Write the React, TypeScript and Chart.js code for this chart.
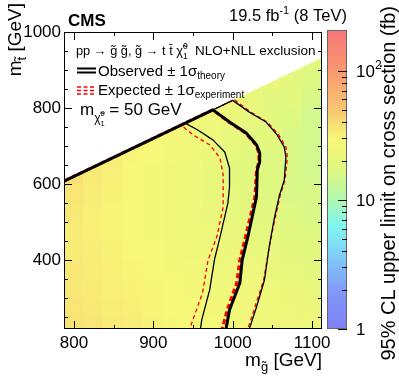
import React, { useEffect, useRef } from "react";
import { Chart, registerables } from "chart.js";

Chart.register(...registerables);

const FONT = '"Liberation Sans", Arial, Helvetica, sans-serif';

// ---------------- data ----------------
const gluinoMasses = [800, 825, 850, 875, 900, 925, 950, 975, 1000, 1025, 1050, 1075, 1100];
const stopMasses = [225, 275, 325, 375, 425, 475, 525, 575, 625, 675, 725, 775, 825, 875, 925];
const N = null;
// 95% CL upper limit on cross section (fb); rows follow stopMasses, columns follow gluinoMasses
const limitGrid: (number | null)[][] = [
  [37, 36, 34, 33, 31, 30, 29, 28, 27, 26, 25, 24, 23],
  [36, 35, 33, 32, 30, 29, 28, 27, 26, 25, 24, 23, 22],
  [35, 34, 32, 31, 30, 28, 27, 26, 25, 24, 23, 22, 21],
  [35, 33, 32, 30, 29, 27, 26, 25, 24, 23, 21, 20, 19],
  [34, 33, 31, 29, 28, 26, 25, 24, 22, 21, 20, 19, 18],
  [34, 32, 30, 28, 27, 25, 24, 23, 21, 20, 19, 18, 17],
  [35, 32, 30, 28, 27, 25, 23, 22, 20, 19, 18, 17, 16],
  [36, 33, 31, 28, 27, 25, 23, 21, 20, 18, 17, 16, 16],
  [38, 34, 32, 29, 27, 25, 23, 21, 19, 18, 17, 16, 15],
  [N, 36, 33, 30, 28, 26, 24, 22, 20, 18, 17, 16, 15],
  [N, N, N, 32, 29, 27, 25, 23, 21, 19, 18, 16, 15],
  [N, N, N, N, N, 28, 26, 24, 22, 20, 18, 17, 15],
  [N, N, N, N, N, N, N, 25, 24, 21, 19, 18, 16],
  [N, N, N, N, N, N, N, N, N, 23, 21, 19, 17],
  [N, N, N, N, N, N, N, N, N, N, N, 20, 19],
];

// exclusion contours [m_gluino, m_stop]
const observed = [[787.5, 607.5], [975, 795], [996, 763], [1017, 734], [1030, 703], [1034, 682], [1034, 658], [1031, 637], [1030, 566], [1019, 460], [1012, 400], [1009, 339], [996, 268], [991, 212]];
const observedMinus = [[787.5, 607.5], [940, 760], [956, 742], [975, 716], [990, 684], [996, 642], [996, 592], [994, 550], [984, 460], [977, 400], [971, 321], [961, 242], [959, 212]];
const observedPlus = [[787.5, 607.5], [1000, 820], [1021, 789], [1042, 763], [1056, 729], [1065, 697], [1067, 671], [1065, 610], [1059, 571], [1052, 505], [1046, 434], [1040, 347], [1030, 276], [1020, 212]];
const expected = [[787.5, 607.5], [975, 795], [995, 763], [1016, 734], [1029, 703], [1033, 682], [1033, 658], [1030, 637], [1028, 566], [1016, 460], [1009, 400], [1005, 339], [993, 268], [986, 212]];
const expectedMinus = [[787.5, 607.5], [935, 755], [950, 729], [971, 703], [984, 668], [988, 624], [988, 539], [980, 460], [969, 400], [962, 313], [949, 237], [945, 212]];
const expectedPlus = [[787.5, 607.5], [1002, 822], [1023, 789], [1044, 762], [1058, 729], [1067, 697], [1069, 671], [1066, 610], [1060, 571], [1053, 505], [1046, 434], [1039, 347], [1028, 276], [1018, 212]];

const xTicks = [800, 900, 1000, 1100];
const xMinorTicks = [850, 950, 1050];
const yTicks = [400, 600, 800, 1000];
const yMinorTicks = [250, 300, 350, 450, 500, 550, 650, 700, 750, 850, 900, 950];
const zTicks = [1, 10, 100];
const zMinorTicks = [2, 3, 4, 5, 6, 7, 8, 9, 20, 30, 40, 50, 60, 70, 80, 90];
const zTickLabels = [["1", ""], ["10", ""], ["10", "2"]];

const X_MIN = 787.5, X_MAX = 1112.5, Y_MIN = 218, Y_MAX = 1000;
const Z_MIN = 1, Z_MAX = 200;
const DIAG_OFFSET = 180; // kinematic boundary m_stop = m_gluino - 180
const CELL_W = 25, CELL_H = 50;

// ---------------- palette ----------------
const paletteStops: [number, number[]][] = [
  [0, [128, 128, 248]],
  [0.28, [128, 152, 248]],
  [0.54, [128, 200, 248]],
  [0.8, [128, 248, 240]],
  [1.0, [176, 248, 176]],
  [1.24, [224, 248, 128]],
  [1.47, [248, 248, 120]],
  [1.71, [248, 196, 112]],
  [2.0, [248, 152, 112]],
  [2.3, [248, 120, 120]],
];
function paletteColor(v: number): string {
  const l = Math.log10(Math.max(v, 1));
  let k = 0;
  while (k < paletteStops.length - 2 && l > paletteStops[k + 1][0]) k++;
  const [l0, c0] = paletteStops[k];
  const [l1, c1] = paletteStops[k + 1];
  const t = Math.min(1, Math.max(0, (l - l0) / (l1 - l0)));
  const c = c0.map((a, i) => Math.round(a + (c1[i] - a) * t));
  return `rgb(${c[0]},${c[1]},${c[2]})`;
}

// ---------------- text helper ----------------
type Seg = { t: string; size: number; dy?: number; bold?: boolean; noAdv?: boolean };
function fontOf(s: Seg) {
  return `${s.bold ? "bold " : ""}${s.size}px ${FONT}`;
}
function segsWidth(ctx: CanvasRenderingContext2D, segs: Seg[]) {
  let w = 0;
  for (const s of segs) {
    ctx.font = fontOf(s);
    if (!s.noAdv) w += ctx.measureText(s.t).width;
  }
  return w;
}
function drawSegs(ctx: CanvasRenderingContext2D, segs: Seg[], x: number, y: number, align: "left" | "right" | "center" = "left") {
  const w = segsWidth(ctx, segs);
  let cx = align === "right" ? x - w : align === "center" ? x - w / 2 : x;
  ctx.textAlign = "left";
  ctx.textBaseline = "alphabetic";
  for (const s of segs) {
    ctx.font = fontOf(s);
    ctx.fillText(s.t, cx, y + (s.dy || 0));
    if (!s.noAdv) cx += ctx.measureText(s.t).width;
  }
}

const heatmapPlugin = {
  id: "heatmap",
  beforeDatasetsDraw(chart: any) {
    const { ctx, chartArea: a } = chart;
    const x = chart.scales.x, y = chart.scales.y;
    ctx.save();
    ctx.beginPath();
    ctx.rect(a.left, a.top, a.right - a.left, a.bottom - a.top);
    ctx.clip();
    ctx.beginPath();
    ctx.moveTo(x.getPixelForValue(X_MIN), y.getPixelForValue(X_MIN - DIAG_OFFSET));
    ctx.lineTo(x.getPixelForValue(X_MAX), y.getPixelForValue(X_MAX - DIAG_OFFSET));
    ctx.lineTo(x.getPixelForValue(X_MAX), a.bottom);
    ctx.lineTo(x.getPixelForValue(X_MIN), a.bottom);
    ctx.closePath();
    ctx.clip();
    stopMasses.forEach((mt, i) => {
      gluinoMasses.forEach((mg, j) => {
        const v = limitGrid[i][j];
        if (v == null) return;
        const x0 = Math.floor(x.getPixelForValue(mg - CELL_W / 2));
        const x1 = Math.ceil(x.getPixelForValue(mg + CELL_W / 2));
        const y0 = Math.floor(y.getPixelForValue(mt + CELL_H / 2));
        const y1 = Math.ceil(y.getPixelForValue(mt - CELL_H / 2));
        ctx.fillStyle = paletteColor(v);
        ctx.fillRect(x0, y0, x1 - x0, y1 - y0);
      });
    });
    ctx.restore();
  },
};

const overlayPlugin = {
  id: "overlay",
  afterDraw(chart: any) {
    const { ctx, chartArea: a } = chart;
    const x = chart.scales.x, y = chart.scales.y, z = chart.scales.z;
    ctx.save();
    ctx.fillStyle = "#000";
    ctx.strokeStyle = "#000";
    ctx.lineWidth = 1;
    // frame
    ctx.strokeRect(a.left + 0.5, a.top + 0.5, a.right - a.left - 1, a.bottom - a.top - 1);
    // ticks
    const tick = (x0: number, y0: number, x1: number, y1: number) => {
      ctx.beginPath();
      ctx.moveTo(x0, y0);
      ctx.lineTo(x1, y1);
      ctx.stroke();
    };
    for (const v of xTicks) {
      const p = Math.round(x.getPixelForValue(v)) + 0.5;
      tick(p, a.bottom, p, a.bottom - 8);
      tick(p, a.top, p, a.top + 8);
    }
    for (const v of xMinorTicks) {
      const p = Math.round(x.getPixelForValue(v)) + 0.5;
      tick(p, a.bottom, p, a.bottom - 4);
      tick(p, a.top, p, a.top + 4);
    }
    for (const v of yTicks) {
      const p = Math.round(y.getPixelForValue(v)) + 0.5;
      tick(a.left, p, a.left + 8, p);
      tick(a.right, p, a.right - 8, p);
    }
    for (const v of yMinorTicks) {
      const p = Math.round(y.getPixelForValue(v)) + 0.5;
      tick(a.left, p, a.left + 4, p);
      tick(a.right, p, a.right - 4, p);
    }

    // colour bar
    const cbL = 327, cbR = 347;
    const cbTop = Math.round(z.getPixelForValue(Z_MAX)) - 2;
    const cbBot = Math.round(z.getPixelForValue(Z_MIN));
    for (let py = cbTop; py < cbBot; py++) {
      ctx.fillStyle = paletteColor(z.getValueForPixel(py + 0.5));
      ctx.fillRect(cbL, py, cbR - cbL, 1);
    }
    ctx.strokeStyle = "#666";
    ctx.strokeRect(cbL + 0.5, cbTop + 0.5, cbR - cbL - 1, cbBot - cbTop - 1);
    ctx.strokeStyle = "#000";
    for (const v of zTicks) {
      const p = Math.round(z.getPixelForValue(v)) + 0.5;
      tick(cbR, p, cbR - 9, p);
    }
    for (const v of zMinorTicks) {
      const p = Math.round(z.getPixelForValue(v)) + 0.5;
      tick(cbR, p, cbR - 5, p);
    }
    ctx.fillStyle = "#000";
    zTicks.forEach((v, i) => {
      const p = z.getPixelForValue(v);
      const [base, sup] = zTickLabels[i];
      const segs: Seg[] = [{ t: base, size: 17 }];
      if (sup) segs.push({ t: sup, size: 12, dy: -8 });
      drawSegs(ctx, segs, 356, p + 6, "left");
    });

    // colour bar title
    ctx.save();
    ctx.translate(395, 6);
    ctx.rotate(-Math.PI / 2);
    drawSegs(ctx, [{ t: "95% CL upper limit on cross section (fb)", size: 20 }], 0, 0, "right");
    ctx.restore();

    // axis titles
    drawSegs(ctx, [{ t: "m", size: 19 }, { t: "g\u0303", size: 13, dy: 5 }, { t: " [GeV]", size: 19 }], a.right, 366, "right");
    ctx.save();
    ctx.translate(21, 3);
    ctx.rotate(-Math.PI / 2);
    drawSegs(ctx, [{ t: "m", size: 19 }, { t: "t\u0303", size: 13, dy: 5 }, { t: " [GeV]", size: 19 }], 0, 0, "right");
    ctx.restore();

    // header
    drawSegs(ctx, [{ t: "CMS", size: 17, bold: true }], 68, 26, "left");
    drawSegs(ctx, [{ t: "19.5 fb", size: 16.5 }, { t: "-1", size: 11, dy: -7 }, { t: " (8 TeV)", size: 16.5 }], 347, 21, "right");

    // legend
    drawSegs(ctx, [
      { t: "pp \u2192 g\u0303 g\u0303, g\u0303 \u2192 t t\u0304 \u03c7\u0303", size: 12.8 },
      { t: "1", size: 8.5, dy: 4, noAdv: true },
      { t: "0", size: 8.5, dy: -6 },
    ], 76, 55, "left");
    drawSegs(ctx, [{ t: "NLO+NLL exclusion", size: 13.5 }], 195, 55, "left");

    ctx.strokeStyle = "#000";
    ctx.lineWidth = 2;
    tick(77, 68.5, 96, 68.5);
    tick(77, 72.5, 96, 72.5);
    drawSegs(ctx, [{ t: "Observed \u00b1 1\u03c3", size: 15 }, { t: "theory", size: 10, dy: 3 }], 98, 76, "left");

    ctx.strokeStyle = "#ff0000";
    ctx.lineWidth = 1.6;
    ctx.setLineDash([4, 2.5]);
    tick(77, 87, 96, 87);
    tick(77, 90.5, 96, 90.5);
    tick(77, 94, 96, 94);
    ctx.setLineDash([]);
    drawSegs(ctx, [{ t: "Expected \u00b1 1\u03c3", size: 15 }, { t: "experiment", size: 10, dy: 3 }], 98, 95, "left");

    drawSegs(ctx, [
      { t: "m", size: 17 },
      { t: "\u03c7\u0303", size: 12, dy: 7 },
      { t: "1", size: 7.5, dy: 11, noAdv: true },
      { t: "0", size: 7.5, dy: 1 },
      { t: " = 50 GeV", size: 17 },
    ], 80, 115, "left");

    ctx.restore();
  },
};

const pts = (arr: number[][]) => arr.map(([mx, my]) => ({ x: mx, y: my }));

export default function App() {
  const ref = useRef<HTMLCanvasElement | null>(null);
  useEffect(() => {
    if (!ref.current) return;
    const line = (label: string, data: number[][], color: string, width: number, dash: number[], order: number) => ({
      label,
      data: pts(data),
      showLine: true,
      borderColor: color,
      backgroundColor: color,
      borderWidth: width,
      borderDash: dash,
      borderJoinStyle: "round",
      pointRadius: 0,
      tension: 0,
      order,
    });
    const chart = new Chart(ref.current, {
      type: "scatter",
      data: {
        datasets: [
          line("Observed", observed, "#000000", 3, [], 0),
          line("Observed -1 sigma theory", observedMinus, "#000000", 1.3, [], 0),
          line("Observed +1 sigma theory", observedPlus, "#000000", 1.3, [], 0),
          line("Expected", expected, "#ff0000", 3, [5, 3], 1),
          line("Expected -1 sigma experiment", expectedMinus, "#ff0000", 1.3, [4, 3], 1),
          line("Expected +1 sigma experiment", expectedPlus, "#ff0000", 1.3, [4, 3], 1),
        ] as any,
      },
      options: {
        animation: false,
        responsive: false,
        maintainAspectRatio: false,
        layout: { padding: { top: 32, right: 77, left: 0, bottom: 0 } },
        plugins: { legend: { display: false }, tooltip: { enabled: false } },
        scales: {
          x: {
            type: "linear",
            position: "bottom",
            min: X_MIN,
            max: X_MAX,
            grid: { display: false, drawTicks: false },
            border: { display: false },
            ticks: { color: "#000", font: { family: FONT, size: 17 }, padding: 4, autoSkip: false, maxRotation: 0, callback: (v: any) => String(v) },
            afterBuildTicks: (s: any) => {
              s.ticks = xTicks.map((v) => ({ value: v }));
            },
            afterFit: (s: any) => {
              s.height = 54;
            },
          },
          y: {
            type: "linear",
            position: "left",
            min: Y_MIN,
            max: Y_MAX,
            grid: { display: false, drawTicks: false },
            border: { display: false },
            ticks: { color: "#000", font: { family: FONT, size: 17 }, padding: 3, autoSkip: false, callback: (v: any) => String(v) },
            afterBuildTicks: (s: any) => {
              s.ticks = yTicks.map((v) => ({ value: v }));
            },
            afterFit: (s: any) => {
              s.width = 64;
            },
          },
          z: {
            type: "logarithmic",
            position: "right",
            display: false,
            min: Z_MIN,
            max: Z_MAX,
          },
        },
      } as any,
      plugins: [heatmapPlugin, overlayPlugin],
    });
    return () => chart.destroy();
  }, []);
  return (
    <div style={{ position: "fixed", left: 0, top: 0, width: 399, height: 383, background: "#fff" }}>
      <canvas ref={ref} width={399} height={383} style={{ display: "block" }} />
    </div>
  );
}
